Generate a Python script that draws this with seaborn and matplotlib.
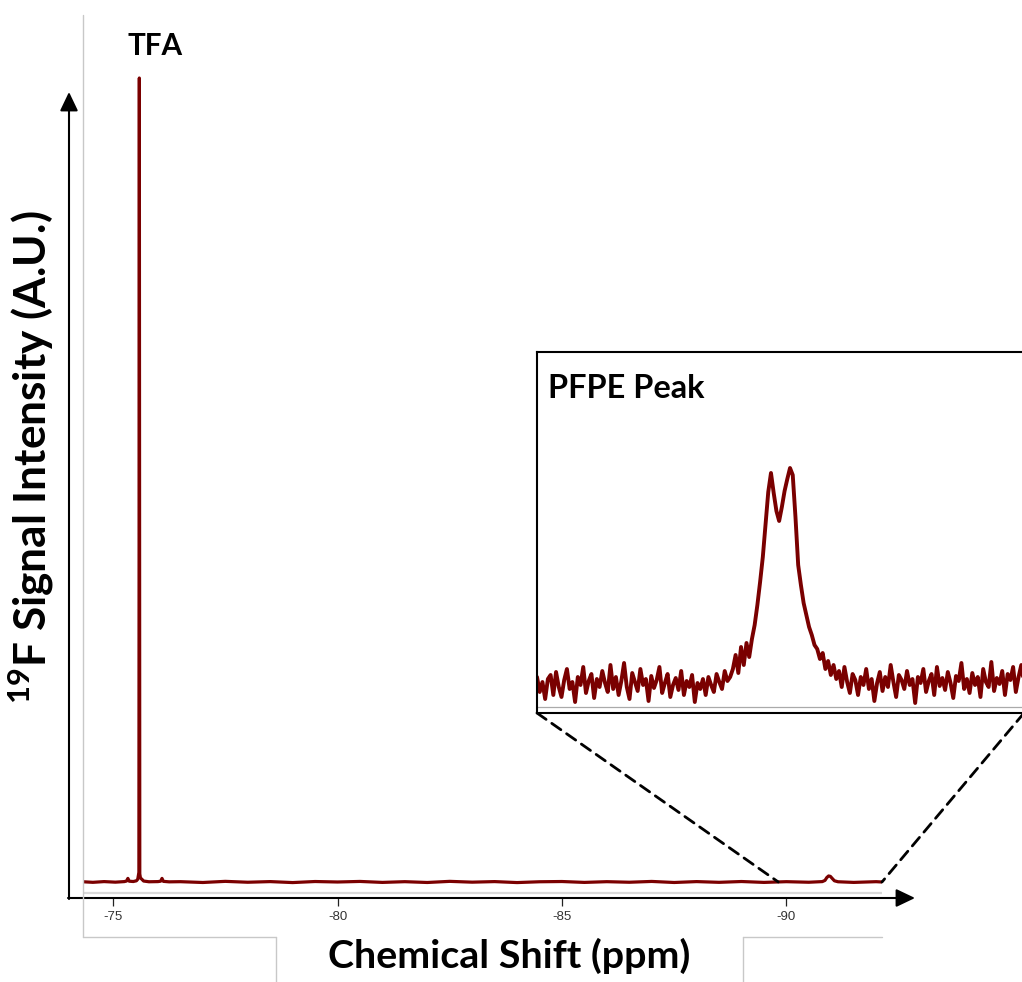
import numpy as np
import pandas as pd
import matplotlib
matplotlib.use("Agg")
import matplotlib.pyplot as plt
import seaborn as sns
from matplotlib.patches import FancyArrowPatch, ConnectionPatch
from matplotlib.lines import Line2D

# ---------------- data ----------------
main_ppm = [-74.33, -74.55, -74.80, -75.05, -75.25, -75.30, -75.33, -75.36, -75.45,
            -75.52, -75.55, -75.575, -75.585, -75.595, -75.61, -75.64, -75.68, -75.80,
            -76.00, -76.06, -76.09, -76.12, -76.25, -76.5, -77.0, -77.5, -78.0, -78.5,
            -79.0, -79.5, -80.0, -80.5, -81.0, -81.5, -82.0, -82.5, -83.0, -83.5, -84.0,
            -84.5, -85.0, -85.5, -86.0, -86.5, -87.0, -87.5, -88.0, -88.5, -89.0, -89.5,
            -90.0, -90.5, -90.80, -90.86, -90.90, -90.94, -90.98, -91.02, -91.07, -91.15,
            -91.5, -92.0, -92.13]
main_int = [0.03, -0.04, 0.05, -0.02, 0.05, 0.12, 0.45, 0.10, 0.06,
            0.15, 0.35, 1.2, 100.0, 1.0, 0.5, 0.35, 0.12, 0.03,
            0.05, 0.10, 0.45, 0.08, 0.02, 0.04, -0.06, 0.08, -0.03, 0.05,
            -0.07, 0.06, 0.00, 0.07, -0.05, 0.04, -0.06, 0.08, -0.02, 0.05, -0.07,
            0.03, 0.06, -0.05, 0.04, -0.03, 0.07, -0.06, 0.05, -0.04, 0.06, -0.05,
            0.04, -0.03, 0.05, 0.20, 0.55, 0.75, 0.70, 0.45, 0.15, 0.03,
            -0.05, 0.04, 0.00]

inset_int = [30, 15, 25, 8, 28, 32, 12, 35, 20, 10,
             27, 38, 18, 25, 5, 30, 22, 40, 14, 26,
             33, 9, 28, 20, 36, 24, 15, 42, 18, 30,
             12, 26, 44, 20, 8, 34, 25, 16, 38, 22,
             28, 6, 31, 19, 27, 40, 14, 24, 33, 10,
             22, 29, 17, 36, 12, 26, 20, 32, 5, 24,
             18, 28, 12, 30, 22, 15, 33, 25, 18, 36, 26, 30,
             38, 52, 34, 60, 42, 64, 50,
             68, 82, 102, 125, 150, 182, 215, 234, 214, 196,
             186, 200, 216, 228, 239, 232, 190, 142, 122, 104,
             92, 80, 72, 62, 58, 48, 54, 38, 46, 32, 42, 28,
             36, 20, 40, 25, 14, 33, 27, 12, 30, 22,
             38, 18, 28, 6, 24, 35, 16, 30, 20, 42,
             25, 10, 32, 27, 18, 36, 22, 28, 4, 30,
             24, 38, 15, 26, 33, 12, 40, 21, 29, 17,
             35, 24, 9, 31, 26, 44, 18, 28, 14, 34,
             22, 30, 10, 38, 25, 20, 45, 16, 29, 23,
             36, 12, 33, 27, 40, 15, 30, 42, 24]
inset_range = (-89.82, -92.14)
inset_ppm = np.linspace(inset_range[0], inset_range[1], len(inset_int))

tick_vals = [-75, -80, -85, -90]
tick_labels = ["-75", "-80", "-85", "-90"]

main_df = pd.DataFrame({"ppm": main_ppm, "intensity": main_int})
inset_df = pd.DataFrame({"ppm": inset_ppm, "intensity": inset_int})

# ---------------- style ----------------
sns.set_theme(style="white")
plt.rcParams["font.family"] = ["Lato", "DejaVu Sans"]
plt.rcParams["mathtext.fontset"] = "custom"
plt.rcParams["mathtext.rm"] = "Lato:bold"
plt.rcParams["mathtext.bf"] = "Lato:bold"
plt.rcParams["mathtext.it"] = "Lato:bold"

W, H = 1022, 982
fig = plt.figure(figsize=(W / 100, H / 100), dpi=100)
fig.patch.set_facecolor("white")

def fx(x):
    return x / W

def fy(y):
    return 1 - y / H

LINE = "#7a0000"

# ---------------- main axes ----------------
ax = fig.add_axes([fx(83), fy(898), (882 - 83) / W, (898 - 15) / H])
ax.set_facecolor("none")
sns.lineplot(data=main_df, x="ppm", y="intensity", ax=ax, color=LINE,
             linewidth=2.3, sort=False, estimator=None)
ax.set_xlim(-74.33, -92.13)
ax.set_ylim(-1.99, 107.84)
ax.axhline(-1.37, color="#d9d9d9", lw=1.6, zorder=0)
for s in ax.spines.values():
    s.set_visible(False)
ax.set_yticks([])
ax.set_xticks(tick_vals)
ax.set_xticklabels(tick_labels, fontfamily="Liberation Sans", fontsize=9.5, color="#333333")
ax.tick_params(axis="x", direction="out", length=6, width=0.9, color="#222222",
               pad=3, bottom=True)
ax.set_xlabel("")
ax.set_ylabel("")

# ---------------- inset axes ----------------
ax_in = fig.add_axes([fx(537), fy(713), (1024 - 537) / W, (713 - 352) / H])
sns.lineplot(data=inset_df, x="ppm", y="intensity", ax=ax_in, color=LINE,
             linewidth=2.8, sort=False, estimator=None)
ax_in.set_xlim(*inset_range)
ax_in.set_ylim(-6, 355)
ax_in.axhline(0, color="#aaaaaa", lw=0.9, zorder=0)
ax_in.set_xticks([])
ax_in.set_yticks([])
ax_in.set_xlabel("")
ax_in.set_ylabel("")
for s in ax_in.spines.values():
    s.set_visible(True)
    s.set_color("black")
    s.set_linewidth(1.5)

# dashed connectors
for xa, xb in [(0, inset_range[0]), (1, -92.13)]:
    cp = ConnectionPatch(xyA=(xa, 0), coordsA=ax_in.transAxes,
                         xyB=(xb, 0), coordsB=ax.transData,
                         color="black", lw=2, linestyle=(0, (4, 2.5)))
    fig.add_artist(cp)

# ---------------- decorations ----------------
grey = "#c8c8c8"
for (x0, y0, x1, y1) in [(83, 15, 83, 937), (83, 937, 276, 937), (276, 937, 276, 982),
                         (743, 937, 882, 937), (743, 937, 743, 982)]:
    fig.add_artist(Line2D([fx(x0), fx(x1)], [fy(y0), fy(y1)], transform=fig.transFigure,
                          color=grey, lw=1))

arrow_style = "-|>,head_length=1.15,head_width=0.55"
fig.add_artist(FancyArrowPatch((fx(69), fy(899)), (fx(69), fy(92)), transform=fig.transFigure,
                               arrowstyle=arrow_style, mutation_scale=10, color="black",
                               lw=1.5, shrinkA=0, shrinkB=0))
fig.add_artist(FancyArrowPatch((fx(68), fy(898)), (fx(915), fy(898)), transform=fig.transFigure,
                               arrowstyle=arrow_style, mutation_scale=10, color="black",
                               lw=1.5, shrinkA=0, shrinkB=0))

# ---------------- texts ----------------
renderer = fig.canvas.get_renderer()

def fit(t, target, dim="w"):
    bb = t.get_window_extent(renderer)
    cur = bb.width if dim == "w" else bb.height
    t.set_fontsize(t.get_fontsize() * target / cur)

t1 = fig.text(fx(155), fy(55), "TFA", ha="center", va="baseline",
              fontweight="bold", fontsize=20, color="black")
fit(t1, 55)
t2 = fig.text(fx(548), fy(398), "PFPE Peak", ha="left", va="baseline",
              fontweight="bold", fontsize=20, color="black")
fit(t2, 157)
t3 = fig.text(fx(509), fy(968), "Chemical Shift (ppm)", ha="center", va="baseline",
              fontweight="bold", fontsize=20, color="black")
fit(t3, 362)
t4 = fig.text(fx(47), fy(457), r"$^{19}$F Signal Intensity (A.U.)", ha="center",
              va="baseline", rotation=90, rotation_mode="anchor",
              fontweight="bold", fontsize=20, color="black")
fit(t4, 495, dim="h")

fig.savefig("out.png", dpi=100, facecolor="white")
